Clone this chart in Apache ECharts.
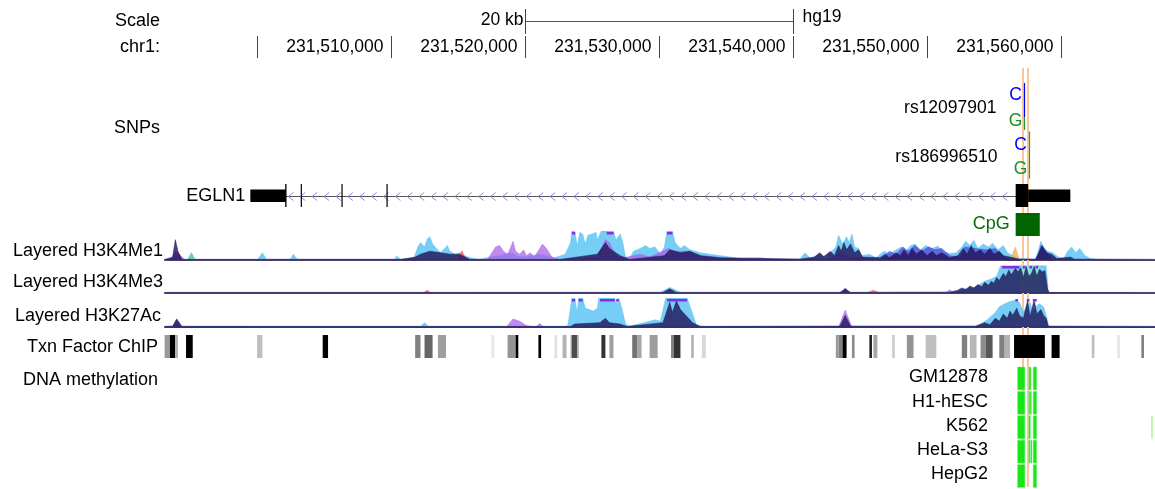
<!DOCTYPE html>
<html lang="en">
<head>
<meta charset="UTF-8">
<title>EGLN1 region - hg19</title>
<script src="https://cdn.jsdelivr.net/npm/echarts/dist/echarts.min.js"></script>
<style>
    html, body { margin: 0; padding: 0; background: #fff; }
    #browser { width: 1155px; height: 489px; }
</style>
</head>
<body>
<div id="browser"></div>
<script>
// all positions are chr1 (hg19) coordinates in kb
var viewRange = [231493.13, 231567.02];
var rulerTicks = [231500, 231510, 231520, 231530, 231540, 231550, 231560];
var scaleBar = [231520, 231540];
var highlightLines = [231557.17, 231557.54];

var snpNames = ['rs12097901', 'rs186996510'];
var snpPos = [231557.22, 231557.6];
var snpBlueFrac = [0.71, 0];

var geneName = 'EGLN1';
var geneSpan = [231499.5, 231560.7];
var geneUtr = [[231499.5, 231502.15], [231557.55, 231560.7]];
var geneCds = [[231502.1, 231502.2], [231503.26, 231503.32], [231506.3, 231506.37], [231509.66, 231509.73], [231556.62, 231557.55]];

var cpgIsland = [231556.62, 231558.42];

// layered histone signal, 0..100 (100 = clipped at track top)
var k4me1Blue = [[231493.1,0],[231493.7,5],[231494.0,22],[231494.3,5],[231494.8,0],[231500.0,0],[231500.1,2],[231500.4,25],[231500.7,3],[231502.5,3],[231502.7,20],[231503.0,3],[231510.3,3],[231510.4,14],[231510.7,3],[231511.7,5],[231512.0,45],[231512.2,60],[231512.5,45],[231512.7,72],[231512.9,80],[231513.1,55],[231513.4,40],[231513.7,25],[231514.0,40],[231514.2,50],[231514.4,30],[231514.8,20],[231515.1,25],[231515.5,15],[231515.9,8],[231516.6,3],[231517.4,10],[231518.1,15],[231519.0,25],[231519.6,10],[231520.4,15],[231521.1,20],[231521.6,15],[231522.2,8],[231523.0,20],[231523.4,60],[231523.5,100],[231523.7,100],[231523.9,50],[231524.1,95],[231524.3,90],[231524.5,55],[231524.7,85],[231525.0,90],[231525.3,95],[231525.4,70],[231525.7,100],[231526.6,100],[231526.8,70],[231527.1,90],[231527.3,60],[231527.5,10],[231527.8,5],[231528.1,30],[231528.6,40],[231529.0,50],[231529.3,40],[231529.7,45],[231530.1,20],[231530.4,45],[231530.6,100],[231531.0,100],[231531.2,60],[231531.6,40],[231531.9,50],[231532.3,35],[231533.1,25],[231533.8,20],[231534.6,15],[231535.3,10],[231536.0,5],[231537.5,8],[231538.3,3],[231540.5,3],[231540.9,25],[231541.3,5],[231542.0,20],[231542.4,8],[231542.9,30],[231543.2,45],[231543.4,85],[231543.7,55],[231544.0,80],[231544.2,60],[231544.4,90],[231544.6,45],[231544.9,40],[231545.1,15],[231545.7,20],[231546.2,8],[231546.8,30],[231547.2,20],[231547.7,35],[231548.1,45],[231548.4,30],[231548.8,50],[231549.1,55],[231549.5,35],[231549.9,50],[231550.4,40],[231550.8,48],[231551.2,30],[231551.7,22],[231552.2,25],[231552.6,45],[231552.9,65],[231553.2,50],[231553.5,68],[231553.8,40],[231554.2,55],[231554.6,45],[231554.9,58],[231555.3,35],[231555.7,50],[231556.0,25],[231556.4,15],[231556.9,5],[231558.1,3],[231558.3,30],[231558.5,65],[231558.7,45],[231559.0,30],[231559.4,25],[231559.8,10],[231560.2,5],[231560.5,30],[231560.8,45],[231561.1,25],[231561.4,40],[231561.8,15],[231562.2,5],[231562.9,2],[231567.0,2]];
var k4me1Purple = [[231493.1,0],[231493.6,0],[231493.9,30],[231494.3,15],[231494.6,2],[231517.2,2],[231517.8,45],[231518.1,50],[231518.4,30],[231518.7,20],[231518.9,40],[231519.1,65],[231519.3,30],[231519.6,20],[231519.9,35],[231520.1,15],[231520.4,25],[231520.7,10],[231521.1,40],[231521.3,55],[231521.6,40],[231522.0,10],[231522.6,2],[231525.4,10],[231525.8,50],[231526.0,70],[231526.3,60],[231526.7,20],[231527.1,5],[231528.6,20],[231529.3,10],[231530.7,40],[231531.2,30],[231532.3,30],[231533.1,15],[231534.6,5],[231542.8,2],[231543.5,25],[231544.3,10],[231546.5,2],[231548.2,25],[231549.1,30],[231550.1,25],[231551.1,20],[231551.7,2],[231567.0,2]];
var k4me1Indigo = [[231493.1,0],[231546.5,0],[231547.2,30],[231547.7,20],[231548.2,45],[231548.6,30],[231549.1,50],[231549.6,30],[231550.1,45],[231550.6,35],[231551.1,40],[231551.7,15],[231552.5,10],[231552.8,45],[231553.6,40],[231554.4,35],[231555.1,40],[231555.8,10],[231556.3,0],[231558.2,0],[231558.5,50],[231558.9,30],[231559.4,0],[231567.0,0]];
var k4me1Navy = [[231493.1,2],[231493.7,10],[231493.9,70],[231494.1,30],[231494.4,2],[231510.7,2],[231511.8,10],[231512.2,20],[231512.9,30],[231513.7,25],[231514.4,20],[231515.1,20],[231515.9,2],[231522.6,2],[231525.4,20],[231526.0,60],[231526.3,40],[231527.1,15],[231527.8,2],[231530.4,15],[231530.8,35],[231531.6,25],[231532.3,30],[231533.1,15],[231534.6,8],[231540.5,3],[231541.6,10],[231542.0,25],[231542.3,12],[231542.8,30],[231543.1,15],[231543.4,50],[231543.6,30],[231543.8,60],[231544.0,35],[231544.3,55],[231544.6,25],[231544.9,35],[231545.2,10],[231546.5,8],[231546.9,20],[231547.2,8],[231547.7,25],[231548.0,15],[231548.3,35],[231548.6,15],[231548.9,40],[231549.2,20],[231549.6,35],[231550.0,15],[231550.4,30],[231550.7,15],[231551.1,25],[231551.7,8],[231552.3,15],[231552.7,40],[231553.0,20],[231553.3,50],[231553.6,25],[231554.0,35],[231554.3,20],[231554.7,40],[231555.0,20],[231555.4,30],[231555.7,15],[231556.2,10],[231556.9,3],[231558.1,3],[231558.4,30],[231558.6,50],[231558.9,25],[231559.3,20],[231559.7,5],[231560.7,10],[231561.0,3],[231567.0,2]];
var k4me1Red = [[231493.1,0],[231514.9,0],[231515.3,32],[231515.6,0],[231567.0,0]];
var k4me1Gold = [[231493.1,0],[231556.2,0],[231556.6,45],[231556.9,0],[231567.0,0]];
var k4me1Teal = [[231493.1,0],[231494.8,0],[231495.1,25],[231495.4,0],[231567.0,0]];
var k4me1Clip = [[231523.5,231523.75],[231526.1,231526.6],[231530.6,231531.0]];

var k4me3Blue = [[231493.1,2],[231530.1,3],[231530.8,20],[231531.6,3],[231552.2,3],[231552.8,15],[231553.6,20],[231554.3,42],[231554.8,50],[231555.2,60],[231555.5,97],[231558.9,97],[231559.05,10],[231559.2,0],[231567.0,0]];
var k4me3Teal = [[231493.1,0],[231556.9,0],[231557.0,100],[231558.4,100],[231558.5,0],[231567.0,0]];
var k4me3Purple = [[231493.1,0],[231543.6,0],[231543.9,18],[231544.2,0],[231551.4,0],[231551.7,12],[231552.0,0],[231567.0,0]];
var k4me3Red = [[231493.1,0],[231512.4,0],[231512.7,10],[231513.0,0],[231545.5,0],[231546.0,10],[231546.5,0],[231567.0,0]];
var k4me3Navy = [[231493.1,2],[231530.3,2],[231530.8,15],[231531.3,2],[231543.5,2],[231543.9,15],[231544.3,2],[231551.7,3],[231552.3,10],[231552.6,18],[231552.9,12],[231553.2,25],[231553.5,18],[231553.8,30],[231554.1,22],[231554.3,38],[231554.6,28],[231554.8,42],[231555.0,35],[231555.2,55],[231555.4,45],[231555.7,70],[231555.9,58],[231556.1,82],[231556.3,65],[231556.6,88],[231556.8,75],[231557.0,90],[231557.2,55],[231557.4,95],[231557.6,60],[231557.8,70],[231558.0,95],[231558.2,60],[231558.4,85],[231558.6,75],[231558.8,80],[231559.0,15],[231559.1,2],[231567.0,2]];
var k4me3Clip = [[231555.6,231556.9],[231557.15,231557.35],[231557.65,231557.85],[231558.1,231558.3]];

var k27acBlue = [[231493.1,2],[231493.7,3],[231494.0,12],[231494.3,3],[231512.2,2],[231512.5,15],[231512.8,2],[231523.0,2],[231523.2,5],[231523.5,100],[231523.7,100],[231523.9,48],[231524.0,100],[231524.3,100],[231524.5,65],[231524.8,60],[231525.1,55],[231525.4,65],[231525.5,100],[231526.7,100],[231526.8,80],[231527.0,100],[231527.2,70],[231527.5,10],[231527.8,3],[231528.9,15],[231529.7,25],[231530.1,20],[231530.3,60],[231530.5,100],[231532.1,100],[231532.4,60],[231532.8,5],[231533.5,2],[231553.8,3],[231554.5,25],[231555.1,50],[231555.4,70],[231555.8,80],[231556.2,88],[231556.6,92],[231556.9,85],[231557.2,50],[231557.5,75],[231557.7,85],[231557.9,50],[231558.1,70],[231558.4,80],[231558.7,70],[231558.9,40],[231559.1,2],[231567.0,2]];
var k27acPurple = [[231493.1,0],[231493.7,0],[231494.0,25],[231494.3,0],[231518.6,0],[231519.1,28],[231519.6,20],[231520.1,5],[231520.8,0],[231521.1,12],[231521.4,0],[231543.4,0],[231543.9,58],[231544.4,0],[231567.0,0]];
var k27acNavy = [[231493.1,2],[231493.7,3],[231494.0,28],[231494.4,2],[231523.4,2],[231523.7,10],[231525.6,15],[231526.0,30],[231526.3,15],[231527.1,10],[231527.6,2],[231530.3,15],[231530.8,85],[231531.0,50],[231531.3,90],[231531.6,60],[231531.8,50],[231532.1,35],[231532.5,15],[231533.1,2],[231543.5,3],[231543.9,40],[231544.3,3],[231553.6,3],[231554.3,15],[231554.7,8],[231555.1,30],[231555.4,20],[231555.7,45],[231556.0,30],[231556.2,55],[231556.4,40],[231556.7,65],[231556.9,40],[231557.2,30],[231557.5,90],[231557.7,35],[231558.0,95],[231558.2,45],[231558.5,60],[231558.7,40],[231558.9,30],[231559.05,3],[231567.0,2]];
var k27acClip = [[231523.5,231523.75],[231524.0,231524.3],[231525.6,231526.7],[231526.8,231527.0],[231530.6,231532.1],[231556.6,231556.8],[231557.45,231557.65],[231557.9,231558.2]];

// transcription factor clusters: [start, end, darkness 0..1]
var txnClusters = [[231493.1,231493.5,0.4],[231493.5,231493.9,1],[231493.9,231494.1,0.3],[231494.7,231495.2,1],[231500.0,231500.4,0.25],[231504.9,231505.3,1],[231511.8,231512.2,0.5],[231512.5,231513.1,0.6],[231513.5,231514.1,0.38],[231517.5,231517.7,0.1],[231518.7,231519.3,0.42],[231519.3,231519.5,1],[231521.0,231521.2,1],[231522.2,231522.4,0.12],[231522.8,231523.1,0.3],[231523.4,231523.5,0.35],[231523.5,231523.9,0.7],[231523.9,231524.0,0.35],[231525.7,231526.0,0.8],[231526.3,231526.6,0.38],[231528.0,231528.4,0.55],[231528.4,231528.7,0.35],[231529.3,231529.9,0.38],[231530.9,231531.1,0.5],[231531.1,231531.6,0.8],[231532.4,231532.6,0.3],[231533.2,231533.5,0.15],[231543.2,231543.4,0.4],[231543.4,231543.7,0.5],[231543.7,231544.0,1],[231544.4,231544.6,0.45],[231545.7,231545.9,0.85],[231546.0,231546.3,0.35],[231547.4,231547.6,0.2],[231548.5,231549.0,0.42],[231549.9,231550.7,0.25],[231552.6,231553.0,0.5],[231553.2,231553.7,0.28],[231554.0,231554.4,0.45],[231554.4,231554.9,0.65],[231555.4,231555.8,0.5],[231555.8,231556.2,0.3],[231556.5,231558.8,1],[231559.3,231559.9,1],[231562.3,231562.5,0.25],[231564.2,231564.4,0.1],[231566.0,231566.2,0.5]];

// DNA methylation: [row, start, end, strength]
var methCells = ['GM12878', 'H1-hESC', 'K562', 'HeLa-S3', 'HepG2'];
var methBlocks = [
    [0,231556.76,231557.31,1],[0,231557.61,231557.76,1],[0,231557.93,231558.19,1],
    [1,231556.76,231557.31,1],[1,231557.6,231557.66,1],[1,231557.7,231557.8,1],[1,231557.93,231558.19,1],
    [2,231556.76,231557.31,1],[2,231557.6,231557.72,1],[2,231557.93,231558.19,1],[2,231566.75,231566.82,0.5],
    [3,231556.76,231557.31,1],[3,231557.6,231557.66,1],[3,231557.74,231557.84,1],[3,231557.93,231558.19,1],
    [4,231556.76,231557.31,1],[4,231557.93,231558.19,1]
];

var FONT = '17.5px "Liberation Sans", Arial, sans-serif';
var LABEL_FONT = '18px "Liberation Sans", Arial, sans-serif';

function crisp(v) { return Math.round(v) + 0.5; }
function fmtPos(kb) {
    return Math.round(kb * 1000).toString().replace(/\B(?=(\d{3})+(?!\d))/g, ',');
}

var grids = [], xAxes = [], yAxes = [];
function addTrack(top, height, yMin, yMax, inverse, baseline) {
    grids.push({ left: 165, right: 0, top: top, height: height });
    var i = grids.length - 1;
    xAxes.push({
        type: 'value', gridIndex: i, min: viewRange[0], max: viewRange[1], show: !!baseline,
        axisLine: { show: !!baseline, lineStyle: { color: '#3b2d66', width: 2 } },
        axisTick: { show: false }, axisLabel: { show: false }, splitLine: { show: false }
    });
    yAxes.push({ type: 'value', gridIndex: i, min: yMin, max: yMax, inverse: !!inverse, show: false, splitLine: { show: false } });
    return i;
}

var gRuler = addTrack(0, 60, 0, 60, true);
var gHl = addTrack(68, 419, 0, 1, true);
var gSnp = addTrack(83, 97, 0, 2, true);
var gGene = addTrack(184, 23, 0, 1, true);
var gCpg = addTrack(213, 23, 0, 1, true);
var gK4me1 = addTrack(231, 29, 0, 100, false, true);
var gK4me3 = addTrack(265, 28, 0, 100, false, true);
var gK27ac = addTrack(298, 29, 0, 100, false, true);
var gTxn = addTrack(335, 23, 0, 1, true);
var gMeth = addTrack(367, 122, 0, 5, true);

function area(g, data, color, opacity, z) {
    return {
        type: 'line', xAxisIndex: g, yAxisIndex: g, data: data, symbol: 'none', showSymbol: false,
        silent: true, animation: false, z: z,
        lineStyle: { width: 0.6, color: color, opacity: opacity },
        areaStyle: { color: color, opacity: opacity }
    };
}
function clipBars(g, bars) {
    return {
        type: 'custom', xAxisIndex: g, yAxisIndex: g, data: bars, z: 8, silent: true,
        renderItem: function (params, api) {
            var a = api.coord([api.value(0), 100]);
            var b = api.coord([api.value(1), 100]);
            return { type: 'rect', shape: { x: a[0], y: a[1] + 1, width: Math.max(b[0] - a[0], 1.5), height: 2.5 }, style: { fill: '#8a2be2' } };
        }
    };
}

var series = [];

// ruler
series.push({
    type: 'custom', xAxisIndex: gRuler, yAxisIndex: gRuler, silent: true,
    data: rulerTicks.map(function (v) { return [v]; }),
    renderItem: function (params, api) {
        var p = api.coord([api.value(0), 36]);
        var q = api.coord([api.value(0), 58]);
        var x = crisp(p[0]);
        var kids = [{ type: 'line', shape: { x1: x, y1: p[1], x2: x, y2: q[1] }, style: { stroke: '#444', lineWidth: 1 } }];
        if (params.dataIndex > 0) {
            kids.push({ type: 'text', style: { text: fmtPos(api.value(0)), x: x - 8, y: api.coord([0, 47])[1], align: 'right', verticalAlign: 'middle', font: FONT, fill: '#000' } });
        }
        return { type: 'group', children: kids };
    }
});
series.push({
    type: 'custom', xAxisIndex: gRuler, yAxisIndex: gRuler, silent: true,
    data: [scaleBar],
    renderItem: function (params, api) {
        var a = api.coord([api.value(0), 21]);
        var b = api.coord([api.value(1), 21]);
        var t0 = api.coord([0, 9])[1], t1 = api.coord([0, 34])[1];
        var xa = crisp(a[0]), xb = crisp(b[0]);
        return { type: 'group', children: [
            { type: 'line', shape: { x1: xa, y1: crisp(a[1]), x2: xb, y2: crisp(a[1]) }, style: { stroke: '#555', lineWidth: 1 } },
            { type: 'line', shape: { x1: xa, y1: t0, x2: xa, y2: t1 }, style: { stroke: '#444', lineWidth: 1 } },
            { type: 'line', shape: { x1: xb, y1: t0, x2: xb, y2: t1 }, style: { stroke: '#444', lineWidth: 1 } },
            { type: 'text', style: { text: (api.value(1) - api.value(0)) + ' kb', x: xa - 2, y: a[1] - 1, align: 'right', verticalAlign: 'middle', font: FONT, fill: '#000' } },
            { type: 'text', style: { text: 'hg19', x: xb + 9, y: a[1] - 4, align: 'left', verticalAlign: 'middle', font: FONT, fill: '#000' } }
        ] };
    }
});

// highlight lines
series.push({
    type: 'custom', xAxisIndex: gHl, yAxisIndex: gHl, silent: true, z: 1,
    data: highlightLines.map(function (v) { return [v]; }),
    renderItem: function (params, api) {
        var a = api.coord([api.value(0), 0]), b = api.coord([api.value(0), 1]);
        return { type: 'line', shape: { x1: a[0], y1: a[1], x2: a[0], y2: b[1] }, style: { stroke: '#f8c69c', lineWidth: 2 } };
    }
});

// SNPs
series.push({
    type: 'custom', xAxisIndex: gSnp, yAxisIndex: gSnp, silent: true, z: 5,
    data: snpPos.map(function (p, i) { return [p, snpBlueFrac[i]]; }),
    renderItem: function (params, api) {
        var i = params.dataIndex;
        var p = api.coord([api.value(0), i]);
        var bot = api.coord([api.value(0), i + 1])[1];
        var top = p[1], h = bot - top, x = crisp(p[0]);
        var split = top + h * api.value(1);
        var kids = [];
        if (api.value(1) > 0) kids.push({ type: 'line', shape: { x1: x, y1: top, x2: x, y2: split }, style: { stroke: '#0000ff', lineWidth: 1.2 } });
        kids.push({ type: 'line', shape: { x1: x, y1: split, x2: x, y2: bot - 1.5 }, style: { stroke: '#2e9a2e', lineWidth: 1.2 } });
        kids.push({ type: 'text', style: { text: snpNames[i], x: x - 28 - 4 * i, y: top + h * 0.52, align: 'right', verticalAlign: 'middle', font: FONT, fill: '#000' } });
        kids.push({ type: 'text', style: { text: 'C', x: x - 9, y: top + h * (0.26 + 0.03 * i), align: 'center', verticalAlign: 'middle', font: FONT, fill: '#0000ff' } });
        kids.push({ type: 'text', style: { text: 'G', x: x - 9, y: top + h * (0.78 - 0.01 * i), align: 'center', verticalAlign: 'middle', font: FONT, fill: '#1f8f1f' } });
        return { type: 'group', children: kids };
    }
});

// gene: intron line with strand chevrons, then exons
series.push({
    type: 'custom', xAxisIndex: gGene, yAxisIndex: gGene, silent: true, z: 4,
    data: [geneSpan],
    renderItem: function (params, api) {
        var s = api.coord([api.value(0), 0.5]);
        var e = api.coord([api.value(1), 0.5]);
        var y = crisp(s[1]);
        var kids = [{ type: 'line', shape: { x1: s[0], y1: y, x2: e[0], y2: y }, style: { stroke: '#555', lineWidth: 1 } }];
        for (var x = s[0] + 40; x < e[0] - 60; x += 11.9) {
            kids.push({ type: 'polyline', shape: { points: [[x + 3, y - 4], [x - 2, y], [x + 3, y + 4]] }, style: { stroke: '#8a8ad8', fill: null, lineWidth: 1 } });
        }
        kids.push({ type: 'text', style: { text: geneName, x: s[0] - 5, y: y, align: 'right', verticalAlign: 'middle', font: LABEL_FONT, fill: '#000' } });
        return { type: 'group', children: kids };
    }
});
series.push({
    type: 'custom', xAxisIndex: gGene, yAxisIndex: gGene, silent: true, z: 5,
    data: geneUtr.map(function (d) { return [d[0], d[1], 0]; }).concat(geneCds.map(function (d) { return [d[0], d[1], 1]; })),
    renderItem: function (params, api) {
        var thick = api.value(2) === 1;
        var a = api.coord([api.value(0), thick ? 0 : 0.24]);
        var b = api.coord([api.value(1), thick ? 1 : 0.78]);
        return { type: 'rect', shape: { x: a[0], y: a[1], width: Math.max(b[0] - a[0], 1.2), height: b[1] - a[1] }, style: { fill: '#000' } };
    }
});

// CpG island
series.push({
    type: 'custom', xAxisIndex: gCpg, yAxisIndex: gCpg, silent: true, z: 5,
    data: [cpgIsland],
    renderItem: function (params, api) {
        var a = api.coord([api.value(0), 0]);
        var b = api.coord([api.value(1), 1]);
        return { type: 'group', children: [
            { type: 'rect', shape: { x: a[0], y: a[1], width: b[0] - a[0], height: b[1] - a[1] }, style: { fill: '#006400' } },
            { type: 'text', style: { text: 'CpG', x: a[0] - 6, y: (a[1] + b[1]) / 2, align: 'right', verticalAlign: 'middle', font: LABEL_FONT, fill: '#0a6e0a' } }
        ] };
    }
});

// layered signal tracks
series.push(area(gK4me1, k4me1Blue, '#5ec4f4', 0.85, 2));
series.push(area(gK4me1, k4me1Teal, '#40c8a0', 0.8, 3));
series.push(area(gK4me1, k4me1Gold, '#e8b060', 0.8, 3));
series.push(area(gK4me1, k4me1Purple, '#a85ee8', 0.72, 3));
series.push(area(gK4me1, k4me1Indigo, '#5048d4', 0.75, 3));
series.push(area(gK4me1, k4me1Red, '#f05a5a', 0.8, 3));
series.push(area(gK4me1, k4me1Navy, '#1e1456', 0.8, 4));
series.push(clipBars(gK4me1, k4me1Clip));

series.push(area(gK4me3, k4me3Blue, '#5ec4f4', 0.85, 2));
series.push(area(gK4me3, k4me3Teal, '#86ead0', 0.85, 3));
series.push(area(gK4me3, k4me3Purple, '#a85ee8', 0.72, 3));
series.push(area(gK4me3, k4me3Red, '#f05a5a', 0.8, 3));
series.push(area(gK4me3, k4me3Navy, '#1e1456', 0.8, 4));
series.push(clipBars(gK4me3, k4me3Clip));

series.push(area(gK27ac, k27acBlue, '#5ec4f4', 0.85, 2));
series.push(area(gK27ac, k27acPurple, '#a85ee8', 0.72, 3));
series.push(area(gK27ac, k27acNavy, '#1e1456', 0.8, 4));
series.push(clipBars(gK27ac, k27acClip));

// transcription factor ChIP density
series.push({
    type: 'custom', xAxisIndex: gTxn, yAxisIndex: gTxn, silent: true, z: 5,
    data: txnClusters,
    renderItem: function (params, api) {
        var a = api.coord([api.value(0), 0]);
        var b = api.coord([api.value(1), 1]);
        var g = Math.round(255 * (1 - api.value(2)));
        return { type: 'rect', shape: { x: a[0], y: a[1], width: Math.max(b[0] - a[0], 1.5), height: b[1] - a[1] }, style: { fill: 'rgb(' + g + ',' + g + ',' + g + ')' } };
    }
});

// DNA methylation
series.push({
    type: 'custom', xAxisIndex: gMeth, yAxisIndex: gMeth, silent: true, z: 5,
    data: methBlocks,
    renderItem: function (params, api) {
        var r = api.value(0);
        var a = api.coord([api.value(1), r]);
        var b = api.coord([api.value(2), r + 1]);
        return { type: 'rect', shape: { x: a[0], y: a[1], width: Math.max(b[0] - a[0], 1.2), height: b[1] - a[1] - 1.5 }, style: { fill: api.value(3) < 1 ? '#9cf07a' : '#17e617', stroke: api.value(3) < 1 ? null : '#7cf27c', lineWidth: 0.5 } };
    }
});

function label(text, x, y, align) {
    return { type: 'text', x: x, y: y, silent: true, style: { text: text, align: align || 'right', verticalAlign: 'middle', font: LABEL_FONT, fill: '#000' } };
}
var graphics = [
    label('Scale', 160, 21), label('chr1:', 160, 47), label('SNPs', 160, 128),
    label('Layered H3K4Me1', 163, 251), label('Layered H3K4Me3', 163, 282),
    label('Layered H3K27Ac', 161, 316), label('Txn Factor ChIP', 158, 347),
    label('DNA methylation', 23, 380, 'left')
];
var methLabelY = [377, 402, 426, 450, 474];
methCells.forEach(function (c, i) { graphics.push(label(c, 988, methLabelY[i])); });

var chart = echarts.init(document.getElementById('browser'));
chart.setOption({
    backgroundColor: '#fff',
    animation: false,
    grid: grids,
    xAxis: xAxes,
    yAxis: yAxes,
    series: series,
    graphic: graphics
});
</script>
</body>
</html>
